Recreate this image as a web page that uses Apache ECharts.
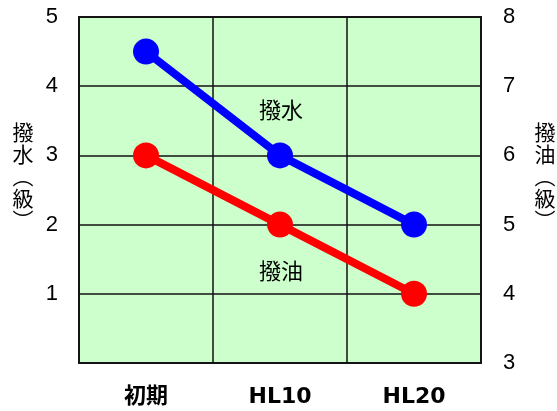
<!DOCTYPE html>
<html>
<head>
<meta charset="utf-8">
<script src="https://cdn.jsdelivr.net/npm/echarts@6/dist/echarts.min.js"></script>
<style>html,body{margin:0;padding:0;background:#fff;}#c{width:557px;height:411px;}</style>
</head>
<body>
<div id="c"></div>
<script>
const categories = ['初期', 'HL10', 'HL20'];
const waterRepellency = [4.5, 3, 2];   // 撥水 (left axis)
const oilRepellency = [6, 5, 4];       // 撥油 (right axis)
const leftTicks = [0, 1, 2, 3, 4, 5];
const rightTicks = [3, 4, 5, 6, 7, 8];

const chart = echarts.init(document.getElementById('c'));
const numFont = { fontFamily: 'Liberation Sans, Arial, sans-serif', fontSize: 22, color: '#000' };
chart.setOption({
  animation: false,
  grid: { left: 79, right: 76, top: 17, bottom: 48, show: true, backgroundColor: '#ccffcc', borderColor: '#222', borderWidth: 2 },
  xAxis: {
    type: 'category', data: categories, boundaryGap: true,
    axisLine: { show: false }, axisTick: { show: false },
    splitLine: { show: true, lineStyle: { color: '#111', width: 1.5 } },
    axisLabel: { margin: 23, fontFamily: 'DejaVu Sans, Noto Sans CJK JP, sans-serif', fontWeight: 'bold', fontSize: 22, color: '#000' }
  },
  yAxis: [
    {
      type: 'value', min: leftTicks[0], max: leftTicks[leftTicks.length - 1], interval: 1,
      axisLine: { show: false }, axisTick: { show: false },
      splitLine: { show: true, lineStyle: { color: '#111', width: 1.5 } },
      axisLabel: Object.assign({ margin: 21, formatter: v => v === 0 ? '' : String(v) }, numFont)
    },
    {
      type: 'value', min: rightTicks[0], max: rightTicks[rightTicks.length - 1], interval: 1,
      axisLine: { show: false }, axisTick: { show: false }, splitLine: { show: false },
      axisLabel: Object.assign({ margin: 22 }, numFont)
    }
  ],
  series: [
    { name: '撥水', type: 'line', yAxisIndex: 0, data: waterRepellency, symbol: 'circle', symbolSize: 26,
      lineStyle: { color: '#0000ff', width: 8 }, itemStyle: { color: '#0000ff' } },
    { name: '撥油', type: 'line', yAxisIndex: 1, data: oilRepellency, symbol: 'circle', symbolSize: 26,
      lineStyle: { color: '#ff0000', width: 8 }, itemStyle: { color: '#ff0000' } }
  ],
  graphic: [
    { type: 'text', x: 23, y: 121, style: { text: '撥\n水\n︵\n級\n︶', font: '21px "Noto Sans CJK JP"', lineHeight: 22, fill: '#000', align: 'center' } },
    { type: 'text', x: 545, y: 121, style: { text: '撥\n油\n︵\n級\n︶', font: '21px "Noto Sans CJK JP"', lineHeight: 22, fill: '#000', align: 'center' } },
    { type: 'text', x: 281, y: 110, style: { text: '撥水', font: '22px "Noto Sans CJK JP"', fill: '#000', align: 'center', verticalAlign: 'middle' } },
    { type: 'text', x: 281, y: 271, style: { text: '撥油', font: '22px "Noto Sans CJK JP"', fill: '#000', align: 'center', verticalAlign: 'middle' } }
  ]
});
</script>
</body>
</html>
